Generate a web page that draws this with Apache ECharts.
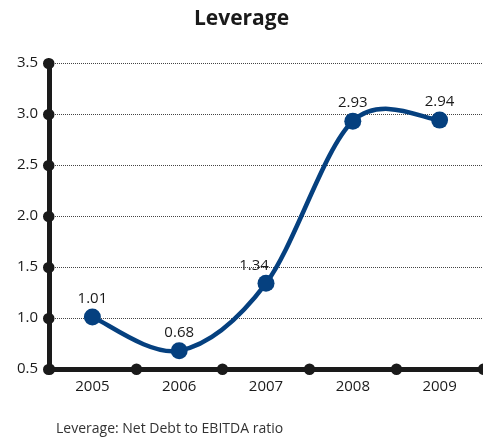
<!DOCTYPE html>
<html>
<head>
<meta charset="utf-8">
<script src="https://cdn.jsdelivr.net/npm/echarts@6/dist/echarts.min.js"></script>
<style>
  html, body { margin: 0; padding: 0; background: #fff; }
  #chart { width: 483px; height: 440px; }
</style>
</head>
<body>
<div id="chart"></div>
<script>
// Net debt to EBITDA by year
const years = ['2005', '2006', '2007', '2008', '2009'];
const leverage = [1.01, 0.68, 1.34, 2.93, 2.94];
const labelOffsets = [[0, 0], [0, 0], [-12, 0], [0, 0], [0, 0]];

const FONT = '"Open Sans", "Noto Sans", sans-serif';
const INK = '#1a1a1a';
const BLUE = '#05407f';

// Catmull-Rom spline through the projected points, as cubic bezier segments
function splinePath(pts) {
  const n = pts.length;
  const p = i => pts[Math.max(0, Math.min(n - 1, i))];
  let d = 'M' + pts[0][0] + ',' + pts[0][1];
  for (let i = 0; i < n - 1; i++) {
    const p0 = p(i - 1), p1 = p(i), p2 = p(i + 1), p3 = p(i + 2);
    const c1 = [p1[0] + (p2[0] - p0[0]) / 6, p1[1] + (p2[1] - p0[1]) / 6];
    const c2 = [p2[0] - (p3[0] - p1[0]) / 6, p2[1] - (p3[1] - p1[1]) / 6];
    d += ' C' + c1[0] + ',' + c1[1] + ' ' + c2[0] + ',' + c2[1] + ' ' + p2[0] + ',' + p2[1];
  }
  return d;
}

const chart = echarts.init(document.getElementById('chart'), null, { renderer: 'canvas' });

chart.setOption({
  animation: false,
  backgroundColor: '#fff',
  title: [
    {
      text: 'Leverage',
      left: 'center',
      top: 4,
      textStyle: { fontFamily: FONT, fontWeight: 'bold', fontSize: 21, color: INK }
    },
    {
      text: 'Leverage: Net Debt to EBITDA ratio',
      left: 51,
      top: 417,
      textStyle: { fontFamily: FONT, fontWeight: 'normal', fontSize: 14, color: '#333' }
    }
  ],
  grid: { left: 49, right: -4, top: 63, bottom: 71, containLabel: false },
  xAxis: {
    type: 'category',
    data: years,
    boundaryGap: true,
    axisLine: { lineStyle: { color: INK, width: 5 } },
    axisTick: { show: true, length: 0.5, alignWithLabel: false, lineStyle: { color: INK, width: 11, cap: 'round' } },
    axisLabel: { fontFamily: FONT, fontSize: 15, color: INK, margin: 10 },
    splitLine: { show: false }
  },
  yAxis: {
    type: 'value',
    min: 0.5,
    max: 3.5,
    interval: 0.5,
    axisLine: { show: true, lineStyle: { color: INK, width: 5 } },
    axisTick: { show: true, length: 0.5, lineStyle: { color: INK, width: 11, cap: 'round' } },
    axisLabel: {
      fontFamily: FONT, fontSize: 15, color: INK, margin: 11,
      formatter: v => v.toFixed(1)
    },
    splitLine: { show: true, lineStyle: { color: '#444', width: 1, type: [1, 1] } }
  },
  series: [
    {
      // smooth curve through all years
      type: 'custom',
      data: leverage.map((v, i) => [i, v]),
      renderItem: (params, api) => {
        if (params.dataIndex !== 0) return null;
        const pts = leverage.map((v, i) => api.coord([i, v]));
        return {
          type: 'path',
          shape: { pathData: splinePath(pts) },
          style: { fill: null, stroke: BLUE, lineWidth: 4.5, lineCap: 'round' }
        };
      },
      clip: false,
      z: 3
    },
    {
      type: 'line',
      data: leverage.map((v, i) => ({ value: v, label: { offset: labelOffsets[i] } })),
      symbol: 'circle',
      symbolSize: 17,
      lineStyle: { width: 0, opacity: 0 },
      itemStyle: { color: BLUE },
      label: {
        show: true,
        position: 'top',
        distance: 2,
        fontFamily: FONT,
        fontSize: 15,
        color: INK,
        formatter: p => p.value.toFixed(2)
      },
      z: 5
    }
  ]
});
</script>
</body>
</html>
